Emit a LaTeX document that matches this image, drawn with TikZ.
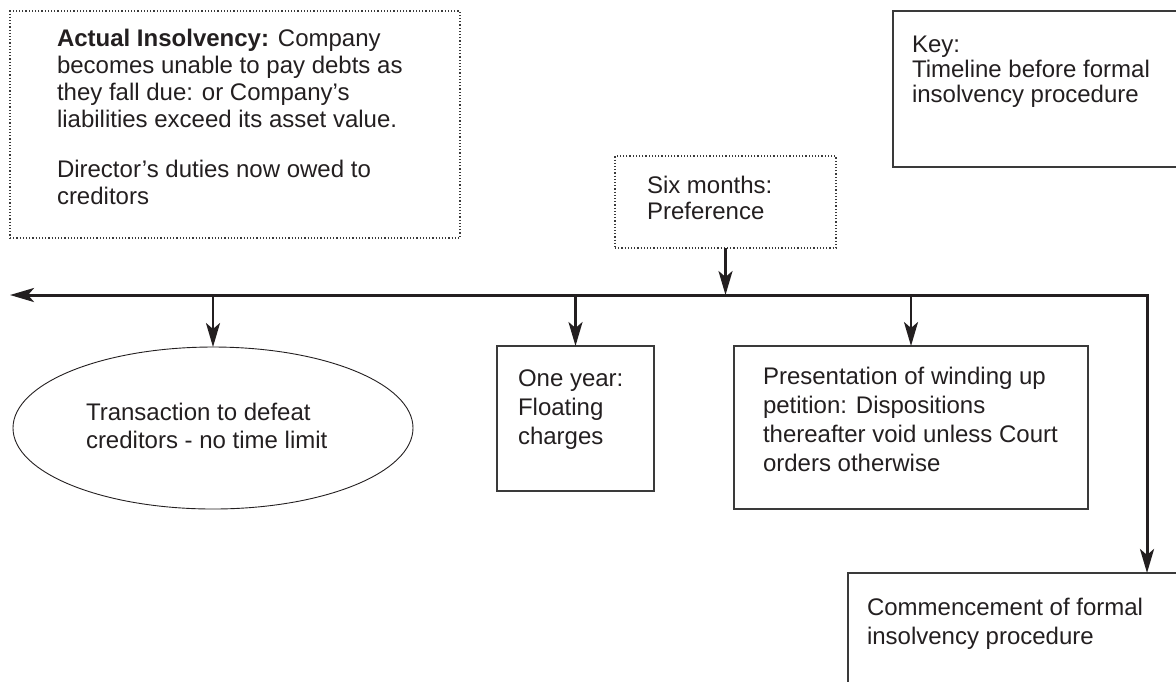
\documentclass[tikz,border=0pt]{standalone}
\usepackage{fontspec}
\setmainfont{Liberation Sans}
\usetikzlibrary{arrows.meta,shapes.geometric}
\definecolor{ink}{HTML}{231F20}
\definecolor{frame}{HTML}{3A3A3A}

% left-aligned block of lines whose baseline is its first line
\newcommand\txtblock[1]{\begin{tabular}[t]{@{}l@{}}#1\end{tabular}}

\begin{document}
\begin{tikzpicture}[x=0.5pt,y=-0.5pt,
  every node/.style={inner sep=0pt,outer sep=0pt},
  txt/.style={anchor=base west,text=ink,font=\fontsize{12}{#1}\selectfont},
  txt/.default=14.5pt,
  solidbox/.style={draw=frame,line width=0.65pt,rectangle},
  dotbox/.style={draw=frame,line width=0.75pt,dash pattern=on 0.6pt off 1pt,rectangle},
  timeline/.style={draw=ink,line width=1.5pt,line join=miter},
  pointer/.style={draw=ink,line width=1.3pt,-{Stealth[length=12pt,width=7pt,inset=3pt]}},
]
\useasboundingbox (0,0) rectangle (1176,682);

% boxes
\node[dotbox,minimum width=225pt,minimum height=113.5pt] (actual) at (235,124.5) {};
\node[dotbox,minimum width=110.5pt,minimum height=46pt] (six) at (725.5,202) {};
\node[ellipse,draw=ink,line width=0.45pt,minimum width=200pt,minimum height=81pt] (defeat) at (213,428) {};
\node[solidbox,minimum width=78.5pt,minimum height=72.5pt] (oneyear) at (575.5,418.5) {};
\node[solidbox,minimum width=177pt,minimum height=81.5pt] (petition) at (911,427.5) {};

% frames running off the right/bottom edge
\draw[draw=frame,line width=0.65pt] (1176,11) -- (893,11) -- (893,167) -- (1176,167);
\draw[draw=frame,line width=0.65pt] (1176,573) -- (848,573) -- (848,682);

% timeline
\coordinate (tlL) at (10,295);
\coordinate (tlR) at (1147,295);
\coordinate (comm) at (1147,573);
\draw[timeline,{Stealth[length=12pt,width=7pt,inset=3pt]}-{Stealth[length=12pt,width=7pt,inset=3pt]}] (tlL) -- (tlR) -- (comm);

% pointers
\draw[pointer] (six.south) -- (six.south |- tlL);
\draw[pointer] (defeat.north |- tlL) -- (defeat.north);
\draw[pointer] (oneyear.north |- tlL) -- (oneyear.north);
\draw[pointer] (petition.north |- tlL) -- (petition.north);

% texts
\node[txt=13.5pt] (actualtext) at (57,46) {\txtblock{\textbf{Actual Insolvency:} Company\\becomes unable to pay debts as\\they fall due: or Company’s\\liabilities exceed its asset value.\\[11.5pt]Director’s duties now owed to\\creditors}};
\node[txt=12.5pt] (keytext) at (912,52) {\txtblock{Key:\\Timeline before formal\\insolvency procedure}};
\node[txt=13pt] (sixtext) at (647,193) {\txtblock{Six months:\\Preference}};
\node[txt=14pt] (defeattext) at (86,420) {\txtblock{Transaction to defeat\\creditors - no time limit}};
\node[txt] (oneyeartext) at (518,386) {\txtblock{One year:\\Floating\\charges}};
\node[txt] (petitiontext) at (763,384) {\txtblock{Presentation of winding up\\petition: Dispositions\\thereafter void unless Court\\orders otherwise}};
\node[txt] (commtext) at (867,615) {\txtblock{Commencement of formal\\insolvency procedure}};
\end{tikzpicture}
\end{document}
